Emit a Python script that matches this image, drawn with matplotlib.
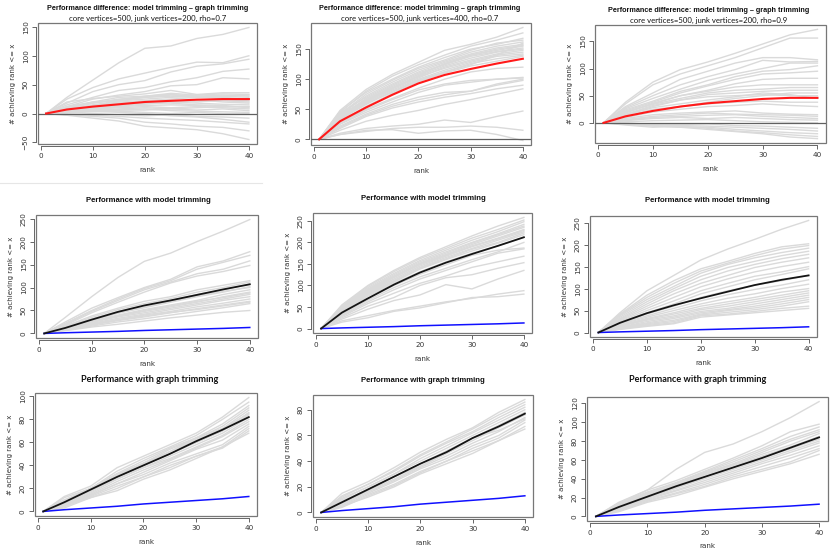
import matplotlib
matplotlib.use("Agg")
import matplotlib.pyplot as plt
from matplotlib.patches import Rectangle

W, H = 830, 552

# ranks where the curves were evaluated
rank = [1, 5, 10, 15, 20, 25, 30, 35, 40]

# ---- row 1: difference model trimming - graph trimming ----
diff_a = [
    [0, 28, 58, 88, 113, 117, 130, 137, 149],
    [0, 25, 45, 60, 70, 80, 89, 88, 100],
    [0, 18, 38, 50, 57, 72, 82, 86, 94],
    [0, 15, 28, 40, 45, 55, 62, 73, 77],
    [0, 12, 25, 32, 38, 48, 50, 62, 60],
    [0, 20, 26, 30, 34, 40, 33, 36, 36],
    [0, 10, 20, 28, 30, 35, 32, 34, 33],
    [0, 8, 18, 24, 30, 33, 30, 32, 30],
    [0, 12, 20, 22, 28, 30, 28, 30, 28],
    [0, 6, 15, 22, 25, 28, 30, 26, 25],
    [0, 5, 12, 18, 22, 24, 20, 24, 22],
    [0, 8, 14, 18, 20, 22, 24, 20, 18],
    [0, 4, 10, 14, 16, 20, 18, 16, 15],
    [0, 6, 10, 12, 14, 15, 14, 12, 12],
    [0, 3, 8, 10, 12, 10, 12, 10, 8],
    [0, 2, 6, 8, 10, 8, 6, 8, 5],
    [0, 4, 5, 6, 8, 5, 4, 3, 2],
    [0, 1, 3, 4, 2, 0, 2, 0, 0],
    [0, -2, 0, -2, -4, -2, -5, -6, -8],
    [0, 2, 4, 2, 0, -4, -6, -10, -15],
    [0, -1, -3, -5, -8, -10, -12, -15, -18],
    [0, -2, -5, -8, -15, -18, -22, -24, -30],
    [0, -3, -8, -13, -22, -25, -28, -35, -45],
    [0, 5, 14, 20, 22, 25, 28, 30, 32],
    [0, 10, 18, 25, 28, 32, 30, 28, 25],
    [0, 3, 7, 12, 18, 18, 15, 14, 10],
    [0, 7, 12, 15, 18, 20, 22, 22, 20],
    [0, 2, 5, 6, 6, 8, 10, 12, 12],
]
diff_a_mean = [0, 7, 12, 16, 20, 22, 24, 25, 25]

diff_b = [
    [0, 48, 83, 108, 128, 148, 158, 170, 186],
    [0, 45, 80, 105, 124, 140, 155, 165, 177],
    [0, 46, 78, 100, 120, 136, 150, 158, 168],
    [0, 42, 75, 98, 118, 132, 148, 160, 165],
    [0, 40, 72, 95, 115, 130, 145, 155, 162],
    [0, 44, 70, 92, 112, 128, 142, 152, 158],
    [0, 38, 68, 90, 110, 125, 140, 148, 155],
    [0, 40, 66, 88, 108, 124, 138, 146, 152],
    [0, 36, 64, 86, 105, 122, 135, 145, 150],
    [0, 35, 62, 84, 102, 120, 132, 142, 148],
    [0, 38, 65, 85, 104, 118, 130, 140, 145],
    [0, 33, 60, 82, 100, 115, 128, 138, 142],
    [0, 34, 58, 80, 98, 112, 126, 134, 140],
    [0, 30, 55, 76, 96, 110, 122, 130, 138],
    [0, 32, 60, 78, 98, 112, 124, 140, 160],
    [0, 37, 63, 85, 106, 126, 140, 150, 156],
    [0, 28, 50, 68, 85, 100, 112, 118, 120],
    [0, 25, 45, 62, 78, 90, 95, 100, 103],
    [0, 22, 42, 58, 70, 78, 80, 92, 100],
    [0, 20, 40, 55, 66, 74, 80, 90, 98],
    [0, 18, 38, 52, 62, 70, 76, 84, 90],
    [0, 15, 30, 40, 48, 58, 66, 75, 84],
    [0, 10, 18, 22, 25, 32, 28, 38, 47],
    [0, 8, 13, 18, 20, 20, 22, 20, 15],
    [0, 8, 15, 16, 10, 14, 15, 8, -2],
    [0, 26, 48, 66, 82, 92, 98, 100, 102],
]
diff_b_mean = [0, 30, 53, 74, 93, 107, 117, 126, 134]

diff_c = [
    [0, 38, 75, 98, 112, 128, 145, 162, 172],
    [0, 35, 70, 90, 105, 120, 138, 156, 156],
    [0, 30, 55, 80, 95, 110, 120, 120, 116],
    [0, 28, 50, 70, 85, 98, 115, 112, 113],
    [0, 26, 45, 62, 78, 90, 100, 110, 110],
    [0, 24, 40, 58, 70, 85, 95, 98, 105],
    [0, 22, 38, 55, 68, 80, 90, 92, 95],
    [0, 20, 35, 50, 60, 72, 80, 82, 82],
    [0, 18, 36, 50, 58, 66, 70, 70, 70],
    [0, 20, 34, 45, 55, 60, 62, 65, 65],
    [0, 15, 30, 42, 52, 55, 58, 60, 60],
    [0, 16, 32, 42, 48, 50, 52, 50, 50],
    [0, 12, 25, 30, 35, 38, 40, 38, 38],
    [0, 10, 20, 25, 30, 32, 35, 32, 30],
    [0, 8, 15, 18, 20, 22, 18, 16, 15],
    [0, 6, 12, 15, 18, 16, 15, 14, 12],
    [0, 5, 10, 12, 14, 15, 12, 10, 8],
    [0, 4, 8, 10, 8, 10, 8, 6, 5],
    [0, 2, 4, 5, 6, 4, 2, 1, 0],
    [0, -2, -4, -3, -2, -5, -6, -8, -10],
    [0, 0, -3, -5, -6, -8, -10, -12, -15],
    [0, -2, -6, -8, -8, -12, -15, -18, -20],
    [0, -4, -8, -6, -10, -15, -18, -22, -25],
    [0, -2, -5, -8, -12, -16, -20, -26, -29],
    [0, 14, 28, 35, 42, 48, 55, 52, 45],
    [0, 10, 22, 30, 38, 45, 50, 55, 55],
]
diff_c_mean = [0, 12, 22, 30, 36, 40, 44, 46, 46]

# ---- row 2: model trimming ----
model_a = [
    [0, 35, 80, 122, 157, 175, 200, 223, 248],
    [0, 25, 55, 78, 100, 118, 145, 158, 178],
    [0, 22, 50, 75, 98, 115, 140, 155, 170],
    [0, 20, 48, 72, 95, 112, 130, 140, 158],
    [0, 18, 45, 68, 90, 110, 125, 135, 148],
    [0, 16, 38, 55, 70, 80, 95, 105, 115],
    [0, 15, 35, 52, 65, 76, 90, 100, 112],
    [0, 14, 32, 48, 60, 72, 85, 95, 108],
    [0, 12, 28, 44, 56, 68, 80, 90, 102],
    [0, 12, 27, 40, 52, 62, 72, 85, 95],
    [0, 10, 25, 38, 48, 58, 68, 80, 90],
    [0, 10, 24, 36, 45, 55, 65, 75, 85],
    [0, 9, 22, 33, 42, 52, 62, 72, 80],
    [0, 8, 20, 30, 40, 48, 58, 66, 75],
    [0, 8, 18, 28, 36, 45, 54, 62, 70],
    [0, 7, 16, 25, 32, 40, 48, 56, 65],
    [0, 6, 14, 20, 27, 34, 40, 46, 50],
    [0, 12, 30, 45, 58, 70, 82, 92, 100],
    [0, 11, 26, 38, 50, 60, 70, 78, 88],
    [0, 9, 20, 30, 38, 46, 52, 60, 68],
]
model_a_mean = [0, 12, 30, 47, 61, 72, 84, 96, 107]

model_b = [
    [0, 55, 100, 135, 165, 190, 215, 238, 258],
    [0, 52, 98, 132, 162, 186, 210, 230, 252],
    [0, 50, 95, 128, 158, 182, 205, 225, 248],
    [0, 48, 92, 125, 155, 178, 200, 220, 242],
    [0, 46, 90, 122, 152, 175, 198, 218, 238],
    [0, 45, 88, 120, 150, 172, 195, 215, 235],
    [0, 44, 86, 118, 148, 170, 192, 210, 230],
    [0, 42, 84, 115, 145, 168, 190, 208, 228],
    [0, 40, 82, 112, 142, 165, 186, 205, 225],
    [0, 40, 80, 110, 140, 162, 184, 200, 222],
    [0, 38, 78, 108, 138, 160, 180, 198, 218],
    [0, 36, 75, 105, 132, 155, 175, 192, 212],
    [0, 34, 70, 100, 126, 148, 170, 182, 187],
    [0, 30, 62, 90, 115, 135, 155, 175, 185],
    [0, 28, 58, 82, 105, 122, 142, 155, 168],
    [0, 25, 52, 72, 100, 118, 125, 140, 153],
    [0, 22, 45, 65, 78, 102, 92, 115, 135],
    [0, 18, 30, 42, 52, 62, 70, 80, 88],
    [0, 15, 25, 40, 48, 60, 72, 74, 80],
    [0, 32, 66, 95, 120, 140, 160, 178, 200],
]
model_b_mean = [0, 37, 70, 102, 130, 153, 173, 192, 212]

model_c = [
    [0, 45, 95, 130, 165, 190, 212, 235, 255],
    [0, 42, 85, 118, 145, 162, 180, 195, 202],
    [0, 40, 80, 112, 140, 158, 175, 190, 198],
    [0, 38, 75, 105, 135, 155, 170, 182, 192],
    [0, 35, 70, 100, 128, 148, 162, 175, 185],
    [0, 32, 65, 95, 120, 140, 155, 168, 178],
    [0, 30, 60, 88, 112, 130, 148, 160, 170],
    [0, 28, 55, 80, 104, 122, 138, 150, 160],
    [0, 26, 50, 72, 95, 112, 128, 138, 150],
    [0, 24, 45, 65, 88, 104, 120, 132, 145],
    [0, 22, 42, 60, 80, 95, 108, 118, 130],
    [0, 20, 38, 55, 72, 86, 98, 108, 120],
    [0, 18, 35, 50, 65, 78, 88, 100, 110],
    [0, 16, 32, 45, 60, 70, 80, 92, 100],
    [0, 15, 30, 42, 55, 65, 75, 85, 95],
    [0, 14, 28, 38, 52, 60, 70, 80, 90],
    [0, 12, 25, 35, 48, 55, 65, 75, 85],
    [0, 11, 22, 32, 45, 52, 60, 70, 80],
    [0, 10, 20, 28, 42, 50, 56, 65, 75],
    [0, 9, 18, 25, 40, 46, 52, 60, 70],
    [0, 8, 16, 22, 38, 42, 48, 55, 60],
    [0, 7, 14, 20, 35, 40, 45, 50, 55],
]
model_c_mean = [0, 22, 44, 62, 78, 93, 108, 120, 130]

# ---- row 3: graph trimming ----
graph_a = [
    [0, 13, 22, 38, 48, 58, 68, 82, 99],
    [0, 12, 20, 35, 46, 56, 66, 80, 95],
    [0, 10, 20, 33, 44, 55, 64, 76, 92],
    [0, 9, 19, 32, 42, 54, 63, 74, 90],
    [0, 8, 20, 32, 42, 52, 62, 72, 88],
    [0, 10, 18, 30, 40, 50, 60, 70, 86],
    [0, 7, 17, 30, 40, 50, 60, 70, 84],
    [0, 8, 18, 28, 38, 48, 58, 68, 82],
    [0, 6, 16, 28, 38, 46, 56, 66, 80],
    [0, 7, 15, 26, 36, 45, 55, 65, 78],
    [0, 5, 14, 24, 34, 44, 54, 62, 76],
    [0, 6, 14, 24, 32, 42, 50, 58, 74],
    [0, 4, 13, 22, 30, 40, 48, 56, 72],
    [0, 5, 12, 20, 30, 38, 48, 55, 70],
    [0, 3, 12, 18, 28, 36, 46, 56, 68],
    [0, 9, 20, 31, 41, 52, 64, 72, 85],
]
graph_a_mean = [0, 8, 19, 30, 40, 50, 61, 71, 82]

graph_b = [
    [0, 15, 24, 35, 47, 57, 66, 78, 88],
    [0, 13, 22, 33, 45, 55, 65, 76, 86],
    [0, 12, 22, 32, 44, 54, 63, 74, 84],
    [0, 11, 20, 30, 42, 52, 62, 72, 82],
    [0, 10, 20, 30, 40, 50, 60, 70, 80],
    [0, 9, 18, 28, 38, 48, 58, 68, 78],
    [0, 8, 17, 26, 36, 46, 56, 66, 76],
    [0, 7, 16, 25, 35, 44, 54, 63, 74],
    [0, 6, 15, 24, 34, 42, 52, 60, 72],
    [0, 5, 14, 22, 32, 40, 50, 58, 70],
    [0, 4, 13, 21, 31, 40, 48, 56, 67],
    [0, 5, 12, 20, 30, 38, 46, 56, 65],
    [0, 8, 18, 28, 36, 46, 58, 64, 73],
]
graph_b_mean = [0, 8, 18, 28, 38, 47, 58, 67, 77]

graph_c = [
    [0, 14, 28, 50, 68, 77, 90, 105, 122],
    [0, 15, 28, 38, 50, 62, 75, 90, 98],
    [0, 14, 26, 36, 48, 60, 72, 85, 95],
    [0, 13, 25, 35, 47, 58, 70, 82, 92],
    [0, 12, 24, 34, 46, 56, 68, 80, 90],
    [0, 11, 23, 33, 45, 55, 66, 76, 88],
    [0, 10, 22, 32, 44, 54, 64, 74, 85],
    [0, 10, 21, 31, 42, 52, 62, 72, 82],
    [0, 9, 20, 30, 40, 50, 60, 70, 80],
    [0, 8, 19, 28, 38, 48, 58, 68, 78],
    [0, 8, 18, 27, 36, 46, 56, 65, 75],
    [0, 7, 17, 25, 34, 44, 53, 62, 72],
    [0, 6, 16, 24, 32, 42, 50, 58, 70],
    [0, 5, 15, 22, 31, 40, 48, 56, 66],
    [0, 9, 20, 30, 42, 52, 63, 73, 84],
]
graph_c_mean = [0, 10, 21, 32, 42, 52, 62, 73, 84]

# random baseline (blue)
baseline = [0, 1.5, 3, 4.5, 6.5, 8, 9.5, 11, 13]

diff_title = "Performance difference: model trimming \u2013 graph trimming"
subtitles = ["core vertices=500, junk vertices=200, rho=0.7",
             "core vertices=500, junk vertices=400, rho=0.7",
             "core vertices=500, junk vertices=200, rho=0.9"]

ARIAL = "Liberation Sans"
CALIBRI = "Lato"

fig = plt.figure(figsize=(W / 100, H / 100), dpi=100)


def px_rect(x0, y0, x1, y1):
    # pixel box (top-left origin) -> figure fraction rect
    return [x0 / W, 1 - y1 / H, (x1 - x0) / W, (y1 - y0) / H]


def panel(box, curves, mean, mean_col, yticks, zero=False, base=None, xpad=5.5):
    ax = fig.add_axes(px_rect(*box))
    for c in curves:
        ax.plot(rank, c, color="#dadada", lw=1.0, solid_joinstyle="round")
    if zero:
        ax.axhline(0, color="#606060", lw=0.9)
    if base is not None:
        ax.plot(rank, base, color="#1010ff", lw=1.1)
    ax.plot(rank, mean, color=mean_col, lw=1.3 if mean_col != "#ff1a1a" else 1.5)
    ax.margins(x=0.04, y=0.04)
    ax.set_xticks([0, 10, 20, 30, 40])
    ax.set_yticks(yticks)
    for s in ["top", "right"]:
        ax.spines[s].set_visible(False)
    for s in ["left", "bottom"]:
        ax.spines[s].set_position(("outward", 1.2))
        ax.spines[s].set_color("#666666")
        ax.spines[s].set_linewidth(0.7)
    ax.spines["bottom"].set_bounds(0, 40)
    ax.spines["left"].set_bounds(yticks[0], yticks[-1])
    ax.add_patch(Rectangle((0, 0), 1, 1, transform=ax.transAxes, fill=False,
                           ec="#777777", lw=0.9, clip_on=False))
    ax.tick_params(length=3, width=0.7, color="#666666", labelsize=5.2,
                   labelcolor="#333333", pad=2.5)
    ax.tick_params(axis="y", labelrotation=90)
    for t in ax.get_yticklabels():
        t.set_va("center")
    ax.set_xlabel("rank", fontsize=5.2, labelpad=xpad, color="#333333")
    ax.set_ylabel("# achieving rank <= x", fontsize=5.0, labelpad=5, color="#333333")
    return ax


def title(x, y, text, family, size, weight="bold"):
    fig.text(x / W, 1 - y / H, text, ha="center", va="center",
             fontsize=size, fontweight=weight, family=family, color="#111111")


RED = "#ff1a1a"
BLACK = "#151515"

# row 1
panel((38, 23, 257, 144), diff_a, diff_a_mean, RED, [-50, 0, 50, 100, 150], zero=True)
panel((311, 23, 531, 145), diff_b, diff_b_mean, RED, [0, 50, 100, 150], zero=True)
panel((595, 25, 826, 143), diff_c, diff_c_mean, RED, [0, 50, 100, 150], zero=True)
for cx, ty, text in [(148, 8, subtitles[0]), (420, 8, subtitles[1]), (709, 10, subtitles[2])]:
    title(cx, ty, diff_title, ARIAL, 5.2)
    title(cx, ty + 10, text, CALIBRI, 5.6, weight="normal")

# row 2
panel((36, 215, 258, 338), model_a, model_a_mean, BLACK, [0, 50, 100, 150, 200, 250], base=baseline)
panel((313, 213, 532, 333), model_b, model_b_mean, BLACK, [0, 50, 100, 150, 200, 250], base=baseline)
panel((590, 216, 817, 337), model_c, model_c_mean, BLACK, [0, 50, 100, 150, 200, 250], base=baseline)
title(148, 200, "Performance with model trimming", ARIAL, 5.6)
title(423, 198, "Performance with model trimming", ARIAL, 5.6)
title(707, 200, "Performance with model trimming", ARIAL, 5.6)

# row 3
panel((35, 393, 257, 516), graph_a, graph_a_mean, BLACK, [0, 20, 40, 60, 80, 100], base=baseline)
panel((313, 395, 533, 517), graph_b, graph_b_mean, BLACK, [0, 20, 40, 60, 80], base=baseline)
panel((587, 397, 828, 521), graph_c, graph_c_mean, BLACK, [0, 20, 40, 60, 80, 100, 120],
      base=baseline, xpad=4.5)
title(150, 379, "Performance with graph trimming", CALIBRI, 6.6)
title(423, 380, "Performance with graph trimming", ARIAL, 5.6)
title(698, 379, "Performance with graph trimming", CALIBRI, 6.6)

# thin separator under the first panel
fig.add_artist(plt.Line2D([0, 262 / W], [1 - 183 / H, 1 - 183 / H], color="#e6e6e6", lw=0.8))

fig.savefig("out.png", dpi=100, facecolor="white")
